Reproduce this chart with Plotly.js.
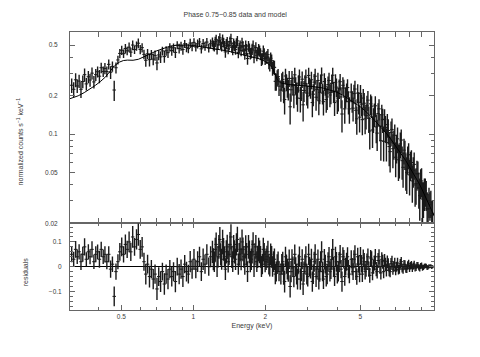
<!DOCTYPE html>
<html>
<head>
<meta charset="utf-8">
<script src="https://cdn.plot.ly/plotly-3.0.1.min.js"></script>
<style>
html,body{margin:0;padding:0;background:#fff;}
#chart{width:480px;height:357px;}
</style>
</head>
<body>
<div id="chart"></div>
<script>
// Energy bins (keV)
const energy = [
0.310,0.316,0.322,0.327,0.333,0.339,0.345,0.351,0.357,0.364,0.370,0.377,0.384,0.391,0.398,0.405,0.412,0.420,0.427,0.435,0.443,0.451,0.459,0.467,0.475,0.484,0.493,0.502,0.511,0.520,0.529,0.539,0.548,0.558,0.568,0.579,0.589,0.600,
0.611,0.622,0.633,0.644,0.656,0.668,0.680,0.692,0.705,0.717,0.730,0.743,0.757,0.770,0.784,0.798,0.813,0.827,0.842,0.857,0.873,0.889,0.905,0.921,0.937,0.954,0.971,0.989,1.007,1.025,1.043,1.062,1.081,1.100,1.120,1.140,1.161,1.182,
1.203,1.214,1.225,1.236,1.247,1.258,1.269,1.280,1.292,1.303,1.315,1.327,1.339,1.351,1.363,1.375,1.387,1.400,1.412,1.425,1.438,1.450,1.463,1.476,1.490,1.503,1.516,1.530,1.544,1.557,1.571,1.586,1.600,1.614,1.628,1.643,1.658,1.672,1.687,1.703,1.718,1.733,1.749,1.764,1.780,1.796,1.812,1.828,1.845,1.861,1.878,1.895,1.912,1.929,1.946,1.964,1.981,1.999,2.017,2.035,2.053,2.072,2.090,2.109,2.128,2.147,2.166,2.186,2.205,2.225,2.245,2.265,2.285,
2.326,2.347,2.368,2.389,2.411,2.432,2.454,2.476,2.498,2.520,2.543,2.566,2.589,2.612,2.636,2.659,2.683,2.707,2.731,2.756,2.781,2.806,2.831,2.856,2.882,2.907,2.933,2.959,2.986,3.013,3.040,3.067,3.095,3.122,3.150,3.178,3.207,3.236,3.265,3.294,3.324,3.353,3.383,3.413,3.444,3.475,3.506,3.537,3.569,3.601,3.634,3.666,3.699,3.732,3.766,3.799,3.833,3.867,3.902,3.937,3.973,4.008,4.044,4.080,4.117,4.154,4.191,4.228,4.266,4.304,4.343,4.382,4.421,4.461,4.501,
4.582,4.623,4.664,4.706,4.748,4.791,4.834,4.877,4.921,4.965,5.009,5.054,5.099,5.145,5.191,5.238,5.285,5.332,5.380,5.428,5.477,5.526,5.575,5.625,5.676,5.727,5.778,5.830,5.882,5.935,5.988,6.041,6.095,6.150,6.205,6.261,6.317,6.373,6.430,6.488,6.546,6.605,6.664,6.724,6.784,6.845,6.906,6.968,7.030,7.093,7.157,7.221,7.285,7.351,7.417,7.483,7.550,7.618,7.686,7.755,7.824,7.894,7.965,8.036,8.108,8.181,8.254,8.328,8.403,8.478,8.554,8.631,8.708,8.786,8.865,8.944,9.024,9.105,9.187,9.269,9.352,9.436,9.520,9.606,9.692,9.779,9.866,9.953,10.04
];
// Normalized counts s^-1 keV^-1
const flux = [
0.242,0.225,0.267,0.239,0.261,0.225,0.259,0.293,0.248,0.282,0.266,0.301,0.257,0.293,0.309,0.285,0.332,0.310,0.328,0.310,0.353,0.306,0.340,0.222,0.332,0.382,0.430,0.455,0.428,0.470,0.451,0.481,0.440,0.500,0.461,0.493,0.517,0.462,
0.477,0.423,0.380,0.427,0.384,0.421,0.388,0.415,0.362,0.418,0.404,0.450,0.406,0.451,0.436,0.480,0.453,0.476,0.438,0.499,0.470,0.491,0.461,0.511,0.480,0.469,0.518,0.487,0.525,0.483,0.511,0.529,0.467,0.514,0.491,0.528,0.475,0.512,
0.529,0.498,0.486,0.535,0.554,0.463,0.502,0.541,0.570,0.509,0.488,0.557,0.525,0.494,0.442,0.511,0.529,0.468,0.496,0.534,0.562,0.480,0.458,0.516,0.494,0.462,0.520,0.539,0.437,0.476,0.494,0.453,0.521,0.490,0.458,0.427,0.495,0.464,0.392,0.491,0.469,0.428,0.436,0.465,0.493,0.402,0.450,0.478,0.416,0.434,0.462,0.450,0.427,0.384,0.391,0.448,0.425,0.392,0.398,0.404,0.420,0.365,0.350,0.394,0.377,0.328,0.338,0.334,0.260,0.259,0.278,0.283,0.238,
0.222,0.260,0.269,0.218,0.187,0.286,0.256,0.235,0.225,0.274,0.164,0.223,0.273,0.243,0.203,0.292,0.242,0.212,0.192,0.251,0.281,0.191,0.221,0.270,0.170,0.220,0.250,0.280,0.210,0.199,0.289,0.238,0.228,0.267,0.177,0.206,0.256,0.285,0.195,0.224,0.264,0.183,0.213,0.252,0.291,0.210,0.180,0.259,0.238,0.187,0.196,0.245,0.264,0.203,0.212,0.251,0.290,0.218,0.177,0.255,0.234,0.182,0.191,0.229,0.258,0.196,0.144,0.242,0.230,0.158,0.196,0.214,0.232,0.180,0.158,
0.214,0.182,0.160,0.208,0.226,0.154,0.132,0.210,0.178,0.136,0.209,0.172,0.130,0.192,0.175,0.132,0.140,0.167,0.185,0.133,0.106,0.173,0.166,0.108,0.131,0.144,0.167,0.114,0.102,0.145,0.158,0.116,0.089,0.142,0.130,0.088,0.131,0.113,0.086,0.119,0.107,0.080,0.073,0.103,0.109,0.077,0.085,0.098,0.066,0.079,0.092,0.063,0.064,0.084,0.090,0.062,0.055,0.075,0.071,0.053,0.050,0.064,0.069,0.048,0.058,0.060,0.043,0.052,0.058,0.040,0.041,0.049,0.049,0.038,0.033,0.042,0.043,0.031,0.032,0.035,0.036,0.034,0.026,0.026,0.030,0.028,0.029,0.023,0.024
];
// 1-sigma errors (same in both panels)
const fluxErr = [
0.032,0.030,0.034,0.029,0.031,0.033,0.030,0.035,0.028,0.031,0.030,0.033,0.029,0.032,0.030,0.034,0.031,0.029,0.033,0.030,0.032,0.035,0.031,0.040,0.033,0.030,0.036,0.038,0.033,0.040,0.035,0.042,0.037,0.044,0.036,0.041,0.045,0.038,
0.040,0.036,0.042,0.038,0.044,0.037,0.041,0.039,0.045,0.038,0.042,0.036,0.043,0.039,0.041,0.037,0.040,0.038,0.043,0.036,0.041,0.039,0.042,0.037,0.040,0.038,0.043,0.039,0.041,0.037,0.042,0.040,0.038,0.043,0.039,0.041,0.037,0.042,
0.045,0.044,0.041,0.047,0.048,0.042,0.043,0.048,0.050,0.045,0.042,0.049,0.046,0.043,0.044,0.047,0.049,0.044,0.043,0.050,0.051,0.045,0.042,0.048,0.047,0.043,0.045,0.051,0.043,0.046,0.048,0.044,0.050,0.048,0.044,0.043,0.047,0.046,0.042,0.048,0.046,0.043,0.043,0.047,0.049,0.042,0.045,0.048,0.042,0.045,0.047,0.046,0.044,0.042,0.041,0.047,0.046,0.043,0.043,0.045,0.045,0.042,0.040,0.044,0.044,0.041,0.042,0.043,0.041,0.040,0.040,0.041,0.039,
0.042,0.041,0.040,0.043,0.044,0.040,0.039,0.042,0.041,0.039,0.045,0.043,0.040,0.041,0.043,0.040,0.038,0.042,0.042,0.039,0.041,0.043,0.039,0.040,0.044,0.041,0.040,0.042,0.042,0.040,0.043,0.039,0.038,0.042,0.041,0.040,0.040,0.041,0.042,0.039,0.039,0.042,0.041,0.040,0.043,0.039,0.040,0.041,0.038,0.040,0.041,0.038,0.039,0.040,0.040,0.041,0.042,0.039,0.038,0.040,0.039,0.038,0.040,0.039,0.038,0.037,0.041,0.038,0.037,0.037,0.036,0.036,0.038,0.037,0.037,
0.036,0.035,0.034,0.036,0.037,0.034,0.033,0.036,0.035,0.033,0.034,0.034,0.032,0.034,0.035,0.032,0.031,0.033,0.033,0.031,0.030,0.032,0.032,0.030,0.029,0.030,0.031,0.029,0.028,0.030,0.030,0.028,0.027,0.028,0.028,0.027,0.026,0.026,0.025,0.025,0.024,0.024,0.023,0.023,0.024,0.023,0.022,0.021,0.020,0.020,0.021,0.020,0.019,0.019,0.019,0.018,0.017,0.017,0.018,0.017,0.016,0.016,0.016,0.015,0.015,0.015,0.014,0.014,0.014,0.013,0.013,0.013,0.012,0.012,0.012,0.011,0.011,0.011,0.010,0.010,0.009,0.009,0.009,0.008,0.008,0.007,0.007,0.007,0.006
];
// Residuals (data - model)
const resid = [
0.05,0.03,0.07,0.04,0.06,0.02,0.05,0.08,0.03,0.06,0.04,0.07,0.02,0.05,0.06,0.03,0.07,0.04,0.05,0.02,0.05,-0.01,0.01,-0.12,-0.02,0.02,0.06,0.08,0.05,0.09,0.07,0.10,0.06,0.12,0.08,0.11,0.13,0.07,
0.08,0.02,-0.03,0.01,-0.04,-0.01,-0.05,-0.03,-0.09,-0.04,-0.06,-0.02,-0.07,-0.03,-0.05,-0.01,-0.04,-0.02,-0.06,0.00,-0.03,-0.01,-0.04,0.01,-0.02,-0.03,0.02,-0.01,0.03,-0.01,0.02,0.04,-0.02,0.03,0.01,0.05,0.00,0.04,
0.06,0.03,0.02,0.07,0.09,0.00,0.04,0.08,0.11,0.05,0.03,0.10,0.07,0.04,-0.01,0.06,0.08,0.02,0.05,0.09,0.12,0.04,0.02,0.08,0.06,0.03,0.09,0.11,0.01,0.05,0.07,0.03,0.10,0.07,0.04,0.01,0.08,0.05,-0.02,0.08,0.06,0.02,0.03,0.06,0.09,0.00,0.05,0.08,0.02,0.04,0.07,0.06,0.04,0.00,0.01,0.07,0.05,0.02,0.03,0.04,0.06,0.01,0.00,0.05,0.04,0.00,0.02,0.03,-0.03,-0.02,0.01,0.02,-0.02,
-0.03,0.01,0.02,-0.03,-0.06,0.04,0.01,-0.01,-0.02,0.03,-0.08,-0.02,0.03,0.00,-0.04,0.05,0.00,-0.03,-0.05,0.01,0.04,-0.05,-0.02,0.03,-0.07,-0.02,0.01,0.04,-0.03,-0.04,0.05,0.00,-0.01,0.03,-0.06,-0.03,0.02,0.05,-0.04,-0.01,0.03,-0.05,-0.02,0.02,0.06,-0.02,-0.05,0.03,0.01,-0.04,-0.03,0.02,0.04,-0.02,-0.01,0.03,0.07,0.00,-0.04,0.04,0.02,-0.03,-0.02,0.02,0.05,-0.01,-0.06,0.04,0.03,-0.04,0.00,0.02,0.04,-0.01,-0.03,
0.03,0.00,-0.02,0.03,0.05,-0.02,-0.04,0.04,0.01,-0.03,0.045,0.01,-0.03,0.035,0.02,-0.02,-0.01,0.02,0.04,-0.01,-0.035,0.035,0.03,-0.025,0.00,0.015,0.04,-0.01,-0.02,0.025,0.04,0.00,-0.025,0.03,0.02,-0.02,0.025,0.01,-0.015,0.02,0.01,-0.015,-0.02,0.012,0.02,-0.01,0.00,0.015,-0.015,0.00,0.015,-0.012,-0.01,0.012,0.02,-0.006,-0.012,0.01,0.008,-0.008,-0.01,0.006,0.012,-0.007,0.004,0.008,-0.008,0.003,0.01,-0.006,-0.004,0.006,0.007,-0.003,-0.007,0.004,0.006,-0.005,-0.003,0.002,0.004,0.003,-0.004,-0.003,0.002,0.001,0.003,-0.002,0.000
];
// Folded model curve
const modelE = [0.305,0.33,0.35,0.37,0.39,0.41,0.43,0.45,0.47,0.49,0.51,0.53,0.56,0.59,0.62,0.66,0.70,0.75,0.80,0.85,0.90,0.95,1.0,1.1,1.2,1.3,1.4,1.5,1.6,1.7,1.8,1.9,2.0,2.1,2.16,2.2,2.25,2.32,2.5,2.75,3.0,3.25,3.5,3.75,4.0,4.25,4.5,4.75,5.0,5.25,5.5,5.75,6.0,6.25,6.5,6.75,7.0,7.25,7.5,7.75,8.0,8.25,8.5,8.75,9.0,9.25,9.5,9.75,10.0,10.17];
const modelF = [0.190,0.200,0.212,0.226,0.242,0.260,0.282,0.314,0.346,0.367,0.378,0.381,0.380,0.387,0.402,0.426,0.449,0.473,0.490,0.498,0.501,0.500,0.496,0.484,0.470,0.459,0.448,0.433,0.421,0.411,0.401,0.389,0.372,0.347,0.322,0.294,0.266,0.253,0.245,0.242,0.240,0.235,0.230,0.222,0.213,0.201,0.188,0.176,0.164,0.152,0.140,0.128,0.117,0.108,0.099,0.090,0.082,0.075,0.068,0.062,0.056,0.051,0.046,0.042,0.038,0.034,0.030,0.027,0.025,0.023];

// Tick definitions
const xTickVals = [0.5,1,2,5];
const xTickText = ['0.5','1','2','5'];
const xMinorVals = [0.4,0.6,0.7,0.8,0.9,3,4,6,7,8,9];
const yTickVals = [0.02,0.05,0.1,0.2,0.5];
const yTickText = ['0.02','0.05','0.1','0.2','0.5'];
const yMinorVals = [0.03,0.04,0.06,0.07,0.08,0.09,0.3,0.4];
const rTickVals = [-0.1,0,0.1];
const rTickText = ['\u22120.1','0','0.1'];

const FONT = 'Liberation Sans, Arial, Helvetica, sans-serif';
const TXT = '#3a3a3a';
const AX = '#666';

const errStyle = {type:'data', visible:true, color:'#1a1a1a', thickness:1.4, width:0};

const traces = [
  {
    x: energy, y: flux, xaxis:'x', yaxis:'y',
    type:'scatter', mode:'markers',
    marker:{symbol:'line-ew', size:2.5, line:{color:'#1a1a1a', width:1}},
    error_y: Object.assign({array: fluxErr}, errStyle),
    hoverinfo:'skip', showlegend:false
  },
  {
    x: modelE, y: modelF, xaxis:'x', yaxis:'y',
    type:'scatter', mode:'lines',
    line:{color:'#000', width:1},
    hoverinfo:'skip', showlegend:false
  },
  {
    x: energy, y: resid, xaxis:'x', yaxis:'y2',
    type:'scatter', mode:'markers',
    marker:{symbol:'line-ew', size:2.5, line:{color:'#1a1a1a', width:1}},
    error_y: Object.assign({array: fluxErr}, errStyle),
    hoverinfo:'skip', showlegend:false
  }
];

const axCommon = {
  showline:true, linecolor:AX, linewidth:1,
  ticks:'inside', tickcolor:AX, ticklen:5, tickwidth:1,
  mirror:'allticks', showgrid:false, zeroline:false,
  tickfont:{family:FONT, size:6.5, color:TXT}
};

const layout = {
  width:480, height:357,
  margin:{l:70, r:46, t:32, b:47, pad:0},
  paper_bgcolor:'#fff', plot_bgcolor:'#fff',
  showlegend:false,
  font:{family:FONT, size:7, color:TXT},
  title:{text:'Phase 0.75\u22120.85 data and model', font:{family:FONT, size:7, color:TXT},
         xref:'container', x:0.49, xanchor:'center', yref:'container', y:0.958, yanchor:'middle'},
  xaxis: Object.assign({}, axCommon, {
    type:'log', range:[Math.log10(0.305), Math.log10(10.17)],
    anchor:'y2', domain:[0,1],
    tickmode:'array', tickvals:xTickVals, ticktext:xTickText,
    minor:{tickmode:'array', tickvals:xMinorVals, ticks:'inside', ticklen:3, tickcolor:AX},
    title:{text:'Energy (keV)', font:{family:FONT, size:7, color:TXT}, standoff:4}
  }),
  yaxis: Object.assign({}, axCommon, {
    type:'log', range:[Math.log10(0.02), Math.log10(0.633)],
    domain:[0.3117,1], anchor:'x',
    tickmode:'array', tickvals:yTickVals, ticktext:yTickText,
    minor:{tickmode:'array', tickvals:yMinorVals, ticks:'inside', ticklen:3, tickcolor:AX},
    ticklabelstandoff:10
  }),
  yaxis2: Object.assign({}, axCommon, {
    type:'linear', range:[-0.175,0.175],
    domain:[0,0.3117], anchor:'x',
    tickmode:'array', tickvals:rTickVals, ticktext:rTickText,
    minor:{dtick:0.02, ticks:'inside', ticklen:3, tickcolor:AX},
    zeroline:true, zerolinecolor:'#000', zerolinewidth:1,
    ticklabelstandoff:6
  }),
  annotations:[
    {text:'normalized counts s<sup>\u22121</sup> keV<sup>\u22121</sup>', xref:'paper', yref:'paper',
     x:-0.137, y:0.607, xanchor:'center', yanchor:'middle', textangle:-90, showarrow:false,
     font:{family:FONT, size:7, color:TXT}},
    {text:'residuals', xref:'paper', yref:'paper',
     x:-0.124, y:0.139, xanchor:'center', yanchor:'middle', textangle:-90, showarrow:false,
     font:{family:FONT, size:7, color:TXT}}
  ]
};

Plotly.newPlot('chart', traces, layout, {staticPlot:true, displayModeBar:false});
</script>
</body>
</html>
